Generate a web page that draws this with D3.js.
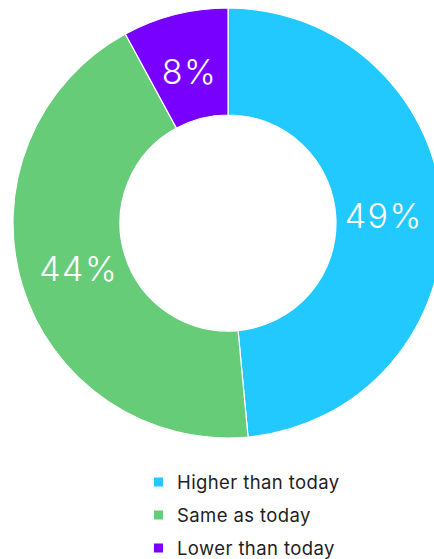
<!DOCTYPE html>
<html>
<head>
<meta charset="utf-8">
<script src="https://cdn.jsdelivr.net/npm/d3@7"></script>
<style>
  html, body { margin: 0; padding: 0; background: #fff; overflow: hidden; }
  svg { display: block; }
</style>
</head>
<body>
<svg id="chart" width="434" height="559"></svg>
<script>
// Expectations for the future
const categories = ["Higher than today", "Same as today", "Lower than today"];
const values = [49, 44, 8];
const colors = ["#22C9FF", "#66CC77", "#7700FF"];

const svg = d3.select("#chart");
const cx = 228, cy = 223;
const outerR = 215, innerR = 108;
const labelR = 156;

const pie = d3.pie().sort(null).value(d => d);
const arc = d3.arc().innerRadius(innerR).outerRadius(outerR);
const labelArc = d3.arc().innerRadius(labelR).outerRadius(labelR);
const color = d3.scaleOrdinal().domain(categories).range(colors);

const g = svg.append("g").attr("transform", `translate(${cx},${cy})`);
const arcs = pie(values);

g.selectAll("path.slice")
  .data(arcs)
  .join("path")
  .attr("class", "slice")
  .attr("d", arc)
  .attr("fill", (d, i) => color(categories[i]))
  .attr("stroke", "#fff")
  .attr("stroke-width", 1.2);

g.selectAll("text.pct")
  .data(arcs)
  .join("text")
  .attr("class", "pct")
  .attr("transform", d => `translate(${labelArc.centroid(d)})`)
  .attr("text-anchor", "middle")
  .attr("dy", "0.36em")
  .attr("fill", "#fff")
  .style("font-family", "Inter, 'Open Sans', sans-serif")
  .style("font-weight", 300)
  .style("font-size", "34px")
  .style("letter-spacing", "1.5px")
  .text(d => d.data + "%");

// Legend
const legend = svg.append("g").attr("transform", "translate(154,482)");
const rowY = d3.scalePoint().domain(categories).range([0, 66]);
const rows = legend.selectAll("g.row")
  .data(categories)
  .join("g")
  .attr("class", "row")
  .attr("transform", d => `translate(0,${rowY(d)})`);

rows.append("rect")
  .attr("x", 0).attr("y", -4.5)
  .attr("width", 9).attr("height", 9)
  .attr("fill", d => color(d));

rows.append("text")
  .attr("x", 23)
  .attr("dy", "0.36em")
  .attr("fill", "#1e1e1e")
  .style("font-family", "Inter, 'Open Sans', sans-serif")
  .style("font-size", "18.5px")
  .style("letter-spacing", "0.4px")
  .text(d => d);
</script>
</body>
</html>
